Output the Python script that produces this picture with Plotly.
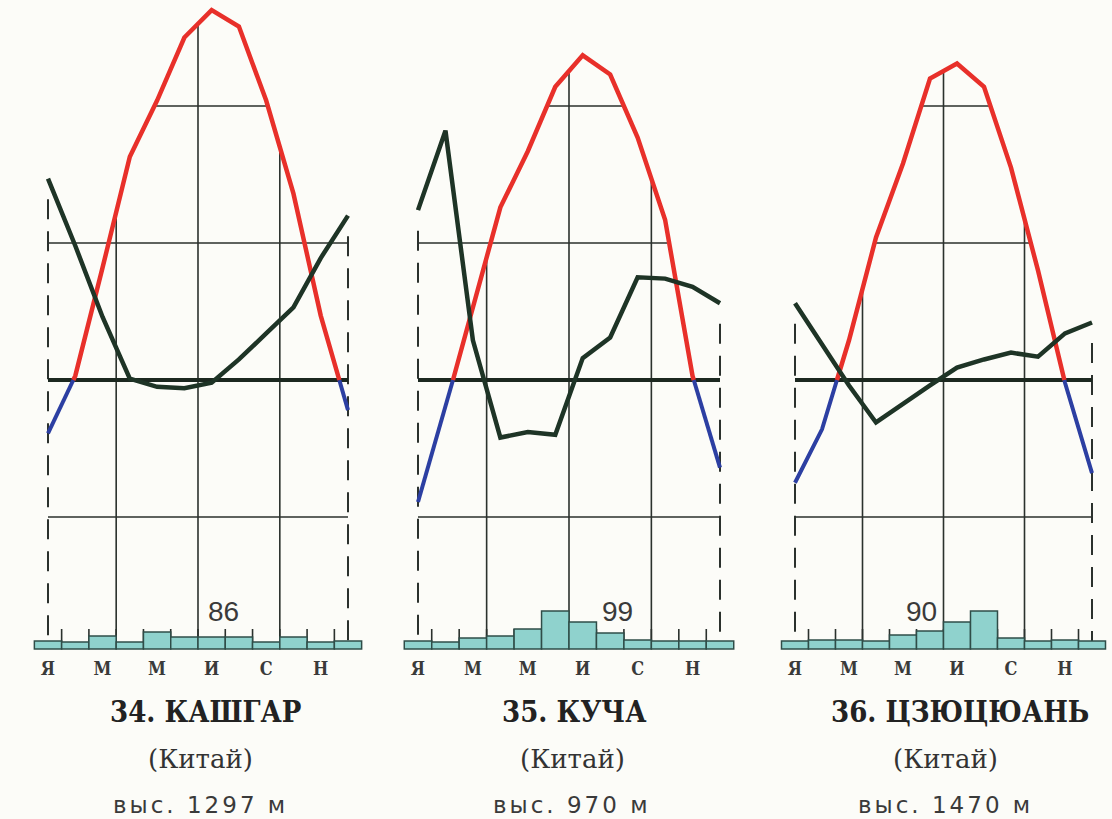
import numpy as np
import plotly.graph_objects as go

W, H = 1112, 819

month_ticks = [0, 2, 4, 6, 8, 10]
month_text = ['Я', 'М', 'М', 'И', 'С', 'Н']

titles = ['34. КАШГАР', '35. КУЧА', '36. ЦЗЮЦЮАНЬ']
country = '(Китай)'
elevations = ['выс. 1297 м', 'выс. 970 м', 'выс. 1470 м']
annual_precip = ['86', '99', '90']

# monthly mean temperature, °C (Jan..Dec)
temp_kashgar = [-3.9, 0.3, 8.2, 16.3, 20.4, 25.0, 27.0, 25.8, 20.4, 13.6, 4.7, -2.2]
temp_kucha = [-8.9, -2.0, 5.3, 12.6, 16.7, 21.4, 23.7, 22.3, 17.7, 11.7, 0.3, -6.4]
temp_jiuquan = [-7.5, -3.6, 2.9, 10.4, 15.8, 22.0, 23.1, 21.4, 15.5, 8.0, -0.2, -6.8]

# dark curve, read on the temperature scale
dark_kashgar = [14.7, 9.8, 4.6, 0.1, -0.5, -0.6, -0.2, 1.5, 3.4, 5.3, 8.9, 12.0]
dark_kucha = [12.4, 18.2, 2.9, -4.2, -3.8, -4.0, 1.6, 3.1, 7.5, 7.4, 6.8, 5.6]
dark_jiuquan = [5.6, 2.6, -0.4, -3.1, -1.7, -0.4, 0.9, 1.5, 2.0, 1.7, 3.4, 4.2]

# monthly precipitation, mm
precip_kashgar = [5.0, 4.4, 8.1, 4.4, 10.6, 7.5, 7.5, 7.5, 4.4, 7.5, 4.4, 5.0]
precip_kucha = [5.0, 4.4, 6.9, 8.1, 12.5, 23.8, 16.9, 10.0, 5.6, 5.0, 5.0, 5.0]
precip_jiuquan = [5.0, 5.6, 5.6, 5.0, 8.8, 11.2, 16.9, 23.8, 6.9, 5.0, 5.6, 5.0]

temps = [temp_kashgar, temp_kucha, temp_jiuquan]
darks = [dark_kashgar, dark_kucha, dark_jiuquan]
precips = [precip_kashgar, precip_kucha, precip_jiuquan]

# page layout (pixels)
panel_left = [48, 418, 795]
panel_right = [348, 720, 1092]
title_cx = [205, 574, 960]
sub_cx = [200, 572, 945]
annual_cx = [223, 617, 921]
ZERO_PY = 380
PX_PER_DEG = 13.7
BASE_PY = 649
PX_PER_MM = 1.6
grid_levels = [20, 10, -10]
season_edges = [2.5, 5.5, 8.5]

RED = '#e8302a'
BLUE = '#2c3fa2'
DARK = '#1e3426'
GRID = '#2b312d'
BAR_FILL = '#8fd2cd'
BAR_LINE = '#2f4d48'
BG = '#fcfcf8'

months = np.arange(12)


def deg(py):
    return (ZERO_PY - py) / PX_PER_DEG


def split_by_sign(vals):
    xs, ys = [], []
    for i in range(12):
        xs.append(float(i))
        ys.append(vals[i])
        if i < 11 and vals[i] * vals[i + 1] < 0:
            xs.append(i + vals[i] / (vals[i] - vals[i + 1]))
            ys.append(0.0)
    pos = [y if y >= 0 else None for y in ys]
    neg = [y if y <= 0 else None for y in ys]
    return xs, pos, neg


fig = go.Figure()
layout_axes = {}

for p in range(3):
    xa = 'x' if p == 0 else f'x{p + 1}'
    temp = temps[p]
    dark = darks[p]

    # grid is only drawn up to the upper envelope of the two curves
    fine = np.linspace(0, 11, 2201)
    env = np.maximum(np.interp(fine, months, temp), np.interp(fine, months, dark))

    gx, gy = [], []
    for lev in grid_levels:
        inside = fine[env >= lev]
        if len(inside):
            gx += [inside.min(), inside.max(), None]
            gy += [lev, lev, None]
    for e in season_edges:
        gx += [e, e, None]
        gy += [float(np.interp(e, fine, env)), deg(BASE_PY), None]
    for k in range(11):
        gx += [k + 0.5, k + 0.5, None]
        gy += [deg(BASE_PY), deg(BASE_PY - 20), None]
    fig.add_trace(go.Scatter(x=gx, y=gy, xaxis=xa, yaxis='y', mode='lines',
                             line=dict(color=GRID, width=1.6), hoverinfo='skip', showlegend=False))

    dx, dy = [], []
    for e in [0, 11]:
        dx += [e, e, None]
        dy += [float(np.interp(e, fine, env)) - 1.5, deg(BASE_PY), None]
    fig.add_trace(go.Scatter(x=dx, y=dy, xaxis=xa, yaxis='y', mode='lines',
                             line=dict(color=GRID, width=2, dash='20px,12px'),
                             hoverinfo='skip', showlegend=False))

    fig.add_trace(go.Scatter(x=[0, 11], y=[0, 0], xaxis=xa, yaxis='y', mode='lines',
                             line=dict(color='#1c2820', width=4), hoverinfo='skip', showlegend=False))

    tx, tpos, tneg = split_by_sign(temp)
    fig.add_trace(go.Scatter(x=tx, y=tneg, xaxis=xa, yaxis='y', mode='lines',
                             line=dict(color=BLUE, width=4), hoverinfo='skip', showlegend=False))
    fig.add_trace(go.Scatter(x=tx, y=tpos, xaxis=xa, yaxis='y', mode='lines',
                             line=dict(color=RED, width=4.5), hoverinfo='skip', showlegend=False))

    fig.add_trace(go.Scatter(x=months, y=dark, xaxis=xa, yaxis='y', mode='lines',
                             line=dict(color=DARK, width=4.5), hoverinfo='skip', showlegend=False))

    fig.add_trace(go.Bar(x=months, y=precips[p], width=1, xaxis=xa, yaxis='y2',
                         marker=dict(color=BAR_FILL, line=dict(color=BAR_LINE, width=1.5)),
                         hoverinfo='skip', showlegend=False))

    sp = (panel_right[p] - panel_left[p]) / 11
    key = 'xaxis' if p == 0 else f'xaxis{p + 1}'
    layout_axes[key] = dict(
        domain=[(panel_left[p] - 0.6 * sp) / W, (panel_left[p] + 11.6 * sp) / W],
        range=[-0.6, 11.6],
        anchor='free',
        position=1 - (BASE_PY + 7) / H,
        showgrid=False, zeroline=False, showline=False, ticks='',
        tickvals=month_ticks, ticktext=['<b>' + t + '</b>' for t in month_text],
        tickfont=dict(family='DejaVu Serif Condensed', size=18, color='#3a3a3a'),
        fixedrange=True,
    )

annotations = []
for p in range(3):
    annotations.append(dict(x=title_cx[p] / W, y=1 - 712 / H, xref='paper', yref='paper',
                            xanchor='center', yanchor='middle',
                            text='<b>' + titles[p] + '</b>', showarrow=False,
                            font=dict(family='DejaVu Serif Condensed', size=29, color='#222222')))
    annotations.append(dict(x=sub_cx[p] / W, y=1 - 759 / H, xref='paper', yref='paper',
                            xanchor='center', yanchor='middle',
                            text=country, showarrow=False,
                            font=dict(family='DejaVu Serif', size=26, color='#333333')))
    annotations.append(dict(x=sub_cx[p] / W, y=1 - 805 / H, xref='paper', yref='paper',
                            xanchor='center', yanchor='middle',
                            text='<span style="letter-spacing:3px">' + elevations[p] + '</span>',
                            showarrow=False,
                            font=dict(family='DejaVu Sans', size=23, color='#3a3a3a')))
    annotations.append(dict(x=annual_cx[p] / W, y=1 - 611 / H, xref='paper', yref='paper',
                            xanchor='center', yanchor='middle',
                            text=annual_precip[p], showarrow=False,
                            font=dict(family='Liberation Sans', size=28, color='#3a3a3a')))

fig.update_layout(
    width=W, height=H,
    margin=dict(l=0, r=0, t=0, b=0),
    paper_bgcolor=BG, plot_bgcolor='rgba(0,0,0,0)',
    showlegend=False,
    barmode='overlay',
    yaxis=dict(domain=[0, 1], range=[deg(H), deg(0)], visible=False, fixedrange=True),
    yaxis2=dict(domain=[0, 1], overlaying='y',
                range=[-(H - BASE_PY) / PX_PER_MM, BASE_PY / PX_PER_MM],
                visible=False, fixedrange=True),
    annotations=annotations,
    **layout_axes,
)

fig.write_html("out.html", config={'displayModeBar': False},
               post_script="document.body.style.margin='0';")
